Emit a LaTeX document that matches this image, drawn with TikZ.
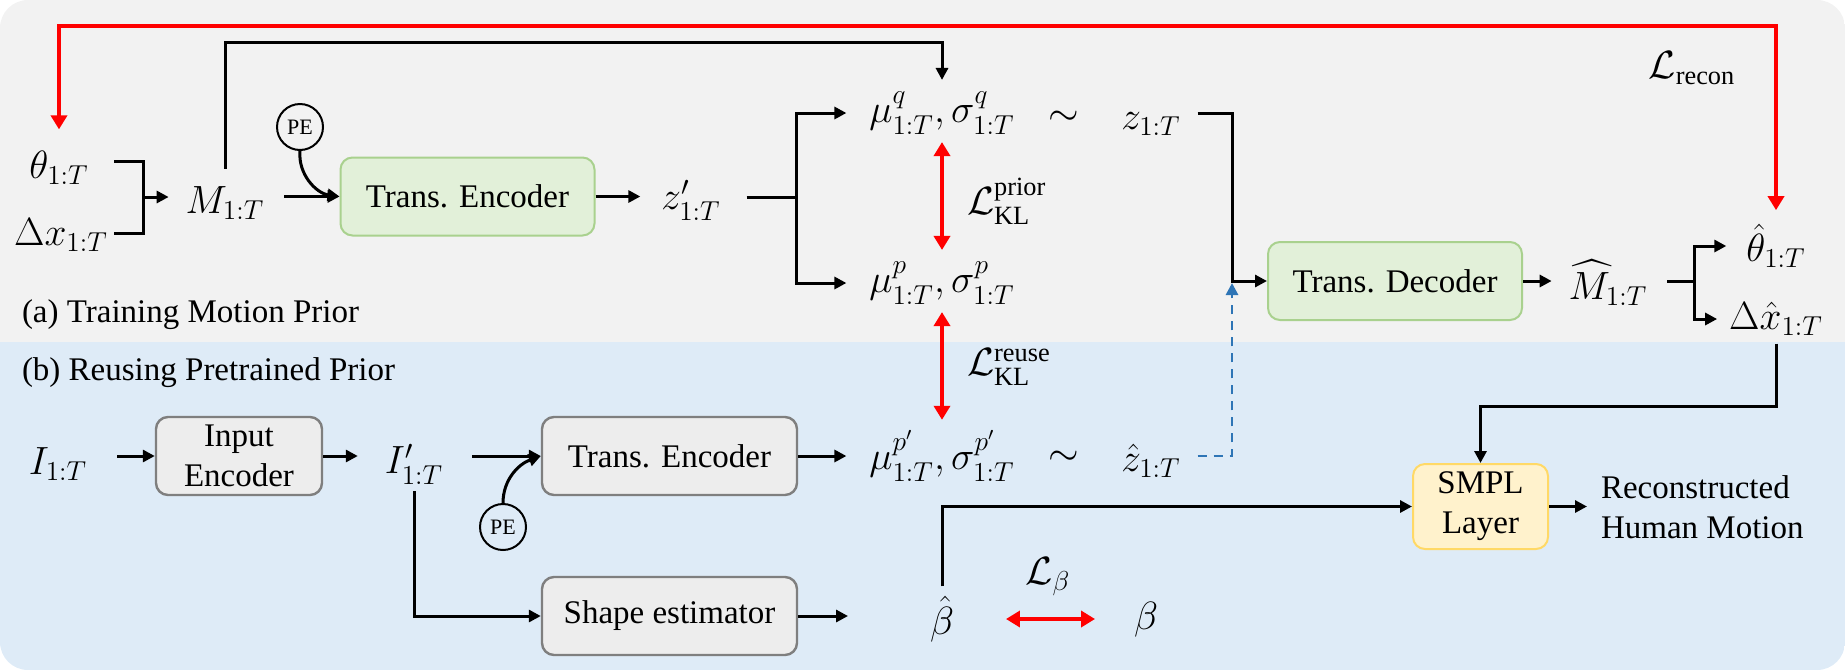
\documentclass[tikz,border=0pt]{standalone}
\usepackage{amsmath}
\usepackage{fontspec}
\setmainfont{Liberation Serif}
\newfontfamily\timesfont{Liberation Serif}
\usetikzlibrary{arrows.meta,calc}
\definecolor{bgtop}{HTML}{F2F2F2}
\definecolor{bgbot}{HTML}{DEEBF7}
\definecolor{gfill}{HTML}{E2F0D9}
\definecolor{gdraw}{HTML}{A9D18E}
\definecolor{grfill}{HTML}{EDEDED}
\definecolor{grdraw}{HTML}{7F7F7F}
\definecolor{yfill}{HTML}{FFF2CC}
\definecolor{ydraw}{HTML}{FFD966}
\definecolor{lossred}{HTML}{FF0000}
\definecolor{dashblue}{HTML}{2E75B6}
\begin{document}
\begin{tikzpicture}[x=0.5pt,y=-0.5pt, font=\timesfont\fontsize{16.5}{20}\selectfont,
  m/.style={inner sep=0pt,outer sep=0pt},
  mm/.style={m, scale=1.14},
  box/.style={draw, rounded corners=6pt, line width=1pt, minimum height=39pt, align=center, inner sep=2pt},
  greenbox/.style={box, fill=gfill, draw=gdraw, minimum width=127pt},
  graybox/.style={box, fill=grfill, draw=grdraw, line width=1.2pt},
  yellowbox/.style={box, fill=yfill, draw=ydraw},
  pecirc/.style={draw, circle, line width=1pt, minimum size=23pt, inner sep=0pt, font=\timesfont\fontsize{11}{12}\selectfont},
  conn/.style={line width=1.5pt, -{Triangle[length=6pt,width=6pt]}},
  plainline/.style={line width=1.5pt},
  redarr/.style={draw=lossred, line width=2pt, {Triangle[length=7pt,width=8pt]}-{Triangle[length=7pt,width=8pt]}},
  bluedash/.style={draw=dashblue, line width=1.4pt, dash pattern=on 4.5pt off 3.5pt, -{Triangle[length=6pt,width=6pt]}}
]
\useasboundingbox (0,0) rectangle (1845,670);
\begin{scope}
  \clip[rounded corners=14pt] (0,0) rectangle (1845,670);
  \fill[bgtop] (0,0) rectangle (1845,342);
  \fill[bgbot] (0,342) rectangle (1845,670);
\end{scope}

% ---------- top panel nodes
\node[mm] (theta) at (59,168) {$\theta_{1:T}$};
\node[mm] (dx) at (61,235) {$\Delta x_{1:T}$};
\node[mm] (M) at (225,203) {$M_{1:T}$};
\node[pecirc] (pe1) at (300,127) {PE};
\node[greenbox] (enc1) at (467.5,196.5) {Trans. Encoder};
\node[mm] (zp) at (691,200) {$z'_{1:T}$};
\node[mm] (muq) at (942,113) {$\mu^{q}_{1:T}, \sigma^{q}_{1:T}$};
\node[mm] (sim1) at (1064,118) {$\sim$};
\node[mm] (z) at (1151,124) {$z_{1:T}$};
\node[mm] (mup) at (942,283) {$\mu^{p}_{1:T}, \sigma^{p}_{1:T}$};
\node[mm,anchor=west] (klp) at (967,201) {$\mathcal{L}^{\text{prior}}_{\text{KL}}$};
\node[greenbox] (dec) at (1395,281) {Trans. Decoder};
\node[mm] (Mh) at (1608,283) {$\widehat{M}_{1:T}$};
\node[mm] (thh) at (1776,246) {$\hat{\theta}_{1:T}$};
\node[mm] (dxh) at (1776,319) {$\Delta\hat{x}_{1:T}$};
\node[mm] (lrec) at (1692,68) {$\mathcal{L}_{\text{recon}}$};
\node[m,anchor=west] (la) at (22,315) {(a) Training Motion Prior};

% ---------- bottom panel nodes
\node[m,anchor=west] (lb) at (22,373) {(b) Reusing Pretrained Prior};
\node[mm] (I) at (58,464) {$I_{1:T}$};
\node[graybox, minimum width=83pt] (inenc) at (239,456) {Input\\Encoder};
\node[mm] (Ip) at (414,464) {$I'_{1:T}$};
\node[pecirc] (pe2) at (503,527) {PE};
\node[graybox, minimum width=127.5pt] (enc2) at (669.5,456) {Trans. Encoder};
\node[graybox, minimum width=127.5pt] (shape) at (669.5,616) {Shape estimator};
\node[mm] (mupp) at (942,456) {$\mu^{p'}_{1:T}, \sigma^{p'}_{1:T}$};
\node[mm] (sim2) at (1064,458) {$\sim$};
\node[mm] (zh) at (1151,461) {$\hat{z}_{1:T}$};
\node[mm,anchor=west] (klr) at (967,367) {$\mathcal{L}^{\text{reuse}}_{\text{KL}}$};
\node[mm] (bh) at (942,619) {$\hat{\beta}$};
\node[mm] (b) at (1146,620) {$\beta$};
\node[mm] (lbeta) at (1048,577) {$\mathcal{L}_{\beta}$};
\node[yellowbox, minimum width=67.5pt, minimum height=42.5pt] (smpl) at (1480.5,506.5) {SMPL\\Layer};
\node[m,anchor=west,align=left] (out) at (1601,507) {Reconstructed\\Human Motion};

% ---------- coordinates
\coordinate (rtr) at (1776,26);
\coordinate (ktr) at (942,42);
\coordinate (thR) at (114,161);
\coordinate (dxR) at (114,233);
\coordinate (b1) at (143,197);
\coordinate (j1) at (796,197);
\coordinate (j2) at (1232,281);
\coordinate (j3) at (1694,281);
\coordinate (j4) at (1776,406);

% ---------- top connectors
\draw[redarr, shorten <=11pt, shorten >=7pt] (theta.north) |- (rtr) -- (thh.north);
\draw[conn, shorten <=9pt, shorten >=6pt] (M.north) |- (ktr) -- (muq.north);
\draw[plainline] (thR) -| (b1) |- (dxR);
\draw[conn, shorten >=8.5pt] (b1) -- (b1 -| M.west);
\draw[conn, shorten <=10pt] (M.east |- enc1.west) -- (enc1.west);
\draw[conn] (pe1.south) to[out=-95,in=172] (enc1.west);
\draw[conn, shorten >=10.5pt] (enc1.east) -- (enc1.east -| zp.west);
\draw[plainline, shorten <=13pt] (zp.east |- j1) -- (j1);
\draw[conn, shorten >=11.5pt] (j1) |- (muq.west);
\draw[conn, shorten >=11.5pt] (j1) |- (mup.west);
\draw[redarr, shorten <=4pt, shorten >=6pt] (muq.south) -- (mup.north);
\draw[redarr, shorten <=4pt, shorten >=5.5pt] (mup.south) -- (mupp.north);
\draw[conn, shorten <=8.5pt] (z.east |- muq.east) -| (j2) -- (dec.west);
\draw[bluedash, shorten <=8.5pt, shorten >=1pt] (zh.east |- mupp.east) -| (j2);
\draw[conn, shorten >=8.5pt] (dec.east) -- (dec.east -| Mh.west);
\draw[plainline, shorten <=10pt] (Mh.east |- j3) -- (j3);
\draw[conn, shorten >=10pt] (j3) |- (thh.west);
\draw[conn, shorten >=6pt] (j3) |- (dxh.west);
\draw[conn, shorten <=4pt] (dxh.south) -- (j4) -| (smpl.north);

% ---------- bottom connectors
\draw[conn, shorten <=15pt] (I.east |- inenc.west) -- (inenc.west);
\draw[conn, shorten >=13.5pt] (inenc.east) -- (inenc.east -| Ip.west);
\draw[conn, shorten <=14.5pt] (Ip.east |- enc2.west) -- (enc2.west);
\draw[conn] (pe2.north) to[out=90,in=200] (enc2.west);
\draw[conn, shorten <=3.5pt] (Ip.south) |- (shape.west);
\draw[conn, shorten >=11.5pt] (enc2.east) -- (enc2.east -| mupp.west);
\draw[conn, shorten >=41pt] (shape.east) -- (shape.east -| bh.west);
\draw[conn, shorten <=5pt] (bh.north) |- (smpl.west);
\draw[redarr, shorten <=26pt, shorten >=19.5pt] (bh.east) -- (bh.east -| b.west);
\draw[conn, shorten >=7pt] (smpl.east) -- (smpl.east -| out.west);
\end{tikzpicture}
\end{document}
